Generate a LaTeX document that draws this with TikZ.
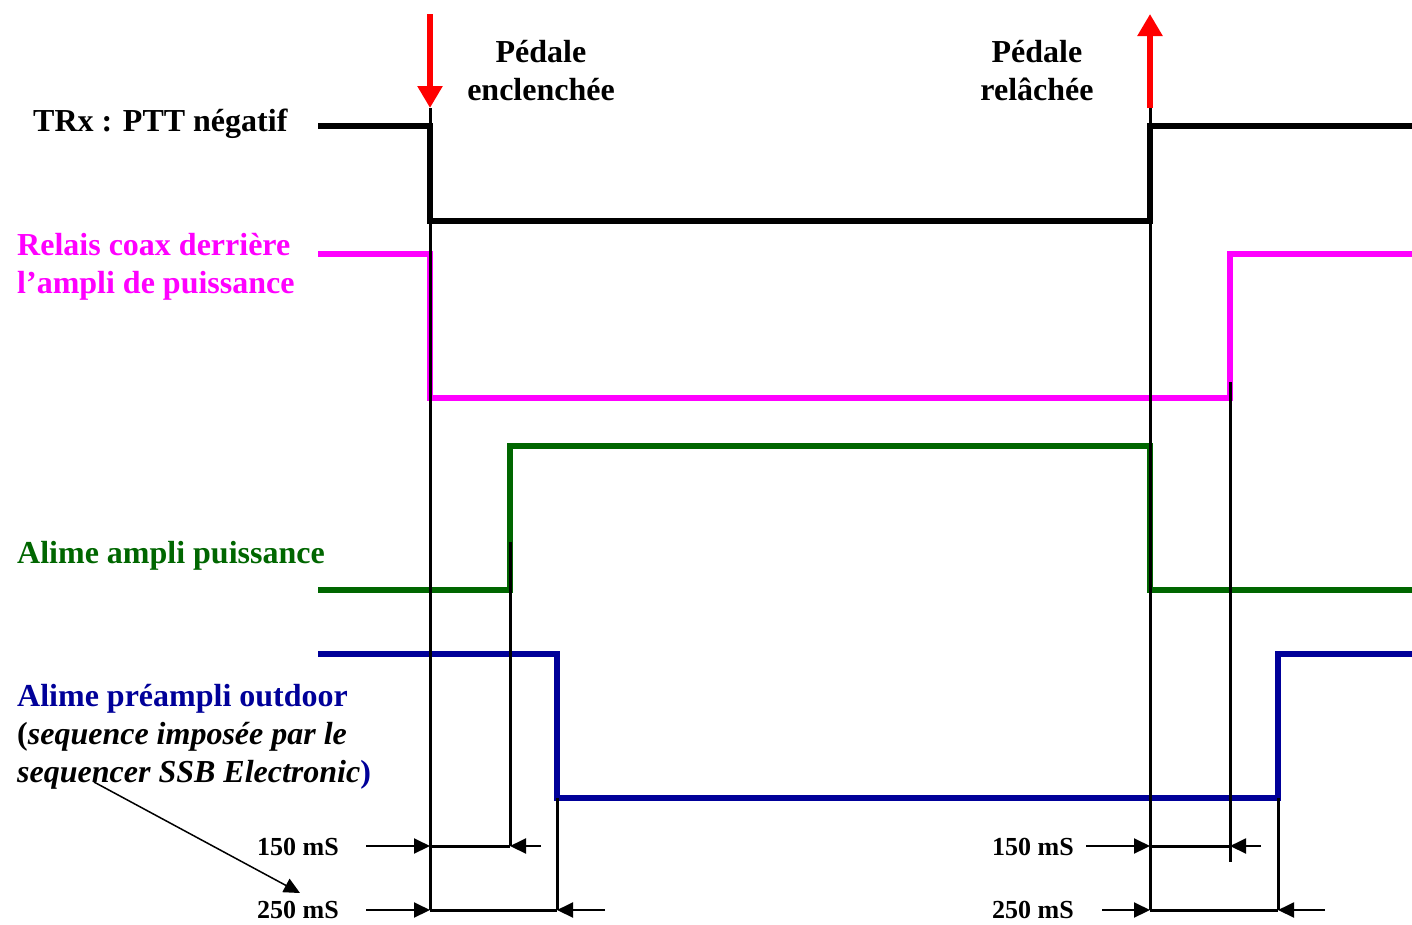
\documentclass[tikz,border=0pt]{standalone}
\usepackage{fontspec}
\setmainfont{Liberation Serif}
\usetikzlibrary{arrows.meta}
\definecolor{mag}{RGB}{255,0,255}
\definecolor{grn}{RGB}{0,102,0}
\definecolor{nvy}{RGB}{0,0,153}
\definecolor{pedred}{RGB}{255,0,0}
\begin{document}
\begin{tikzpicture}[x=1pt,y=-1pt,
  trace/.style={line width=6.5pt},
  guide/.style={line width=3pt},
  lbl/.style={font=\fontsize{32}{38}\selectfont\bfseries, inner sep=0pt, align=left},
  mslbl/.style={font=\fontsize{26}{30}\selectfont\bfseries, inner sep=0pt, anchor=base east},
  dimarrow/.style={line width=2pt, -{Triangle[length=16pt,width=15pt]}},
  pedal/.style={pedred, line width=6pt, -{Triangle[length=22pt,width=24pt]}}]
\useasboundingbox (0,0) rectangle (1412,924);

% event coordinates
\coordinate (A1) at (430,108);  \coordinate (A2) at (1150,108);
\coordinate (A1t) at (430,14);  \coordinate (A2t) at (1150,14);
\coordinate (d1a) at (430,846); \coordinate (d1b) at (510,846);
\coordinate (d2a) at (430,910); \coordinate (d2b) at (557,910);
\coordinate (d3a) at (1150,846); \coordinate (d3b) at (1230,846);
\coordinate (d4a) at (1150,910); \coordinate (d4b) at (1278,910);

% traces
\draw[trace, black] (318,126) -- (430,126) -- (430,221) -- (1150,221) -- (1150,126) -- (1412,126);
\draw[trace, mag] (318,254) -- (430,254) -- (430,398) -- (1230,398) -- (1230,254) -- (1412,254);
\draw[trace, grn] (318,590) -- (510,590) -- (510,446) -- (1150,446) -- (1150,590) -- (1412,590);
\draw[trace, nvy] (318,654) -- (557,654) -- (557,798) -- (1278,798) -- (1278,654) -- (1412,654);

% guides
\draw[guide] (A1) -- (d2a);
\draw[guide] (A2) -- (d4a);
\draw[guide] (510,542) -- (d1b);
\draw[guide] (557,798) -- (d2b);
\draw[guide] (1230,382) -- (1230,862);
\draw[guide] (1278,798) -- (d4b);
\draw[guide] (d1a) -- (d1b);
\draw[guide] (d2a) -- (d2b);
\draw[guide] (d3a) -- (d3b);
\draw[guide] (d4a) -- (d4b);

% dimension arrows
\draw[dimarrow] (366,846) -- (d1a);
\draw[dimarrow] (541,846) -- (d1b);
\draw[dimarrow] (366,910) -- (d2a);
\draw[dimarrow] (605,910) -- (d2b);
\draw[dimarrow] (1086,846) -- (d3a);
\draw[dimarrow] (1261,846) -- (d3b);
\draw[dimarrow] (1102,910) -- (d4a);
\draw[dimarrow] (1325,910) -- (d4b);

% pedal arrows
\draw[pedal] (A1t) -- (A1);
\draw[pedal] (A2) -- (A2t);

% labels
\node[lbl, anchor=base, align=center] (ped1) at (541,100) {Pédale\\enclenchée};
\node[lbl, anchor=base, align=center] (ped2) at (1037,100) {Pédale\\relâchée};
\node[lbl, anchor=base west] (trx) at (33,131) {TRx : PTT négatif};
\node[lbl, anchor=base west, text=mag] (coax) at (17,293) {Relais coax derrière\\l’ampli de puissance};
\node[lbl, anchor=base west, text=grn] (pa) at (17,563) {Alime ampli puissance};
\node[lbl, anchor=base west, text=nvy] (pre) at (17,782) {Alime préampli outdoor\\{\color{black}(\textit{sequence imposée par le}}\\{\color{black}\textit{sequencer SSB Electronic}})};
\node[mslbl] (m1) at (339,855) {150 mS};
\node[mslbl] (m2) at (339,918) {250 mS};
\node[mslbl] (m3) at (1074,855) {150 mS};
\node[mslbl] (m4) at (1074,918) {250 mS};

\coordinate (seqpt) at (94,782);
\draw[dimarrow, line width=1.5pt] (seqpt) -- (300,893);
\end{tikzpicture}
\end{document}
